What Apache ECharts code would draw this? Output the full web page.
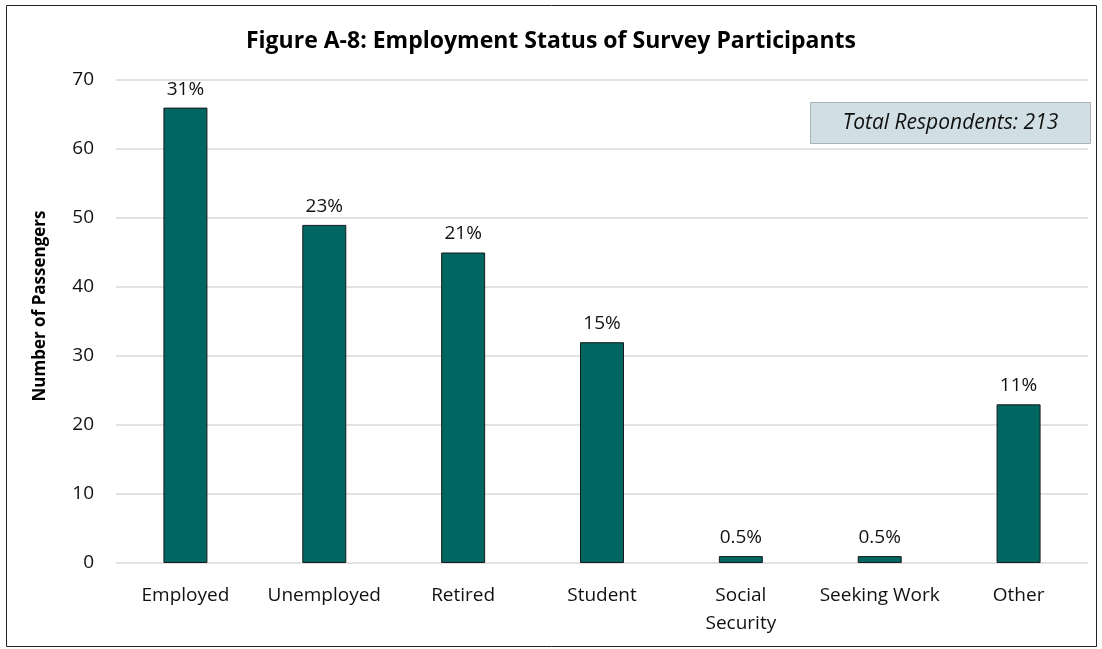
<!DOCTYPE html>
<html>
<head>
<meta charset="utf-8">
<script src="https://cdn.jsdelivr.net/npm/echarts@6/dist/echarts.min.js"></script>
<style>
html,body{margin:0;padding:0;background:#fff;}
#chart{width:1102px;height:649px;}
</style>
</head>
<body>
<div id="chart"></div>
<script>
// Employment status of survey participants
const categories = ['Employed', 'Unemployed', 'Retired', 'Student', 'Social\nSecurity', 'Seeking Work', 'Other'];
const counts = [66, 49, 45, 32, 1, 1, 23];
const shareLabels = ['31%', '23%', '21%', '15%', '0.5%', '0.5%', '11%'];
const yTicks = { min: 0, max: 70, interval: 10 };
const totalRespondents = 213;

const FONT = '"Open Sans", "Noto Sans", sans-serif';

const chart = echarts.init(document.getElementById('chart'));
chart.setOption({
  backgroundColor: '#fff',
  animation: false,
  title: {
    text: 'Figure A-8: Employment Status of Survey Participants',
    left: 'center',
    top: 25,
    textStyle: { fontFamily: FONT, fontWeight: 'bold', fontSize: 23, color: '#000' }
  },
  grid: { left: 116, right: 14, top: 80, bottom: 86 },
  xAxis: {
    type: 'category',
    data: categories,
    axisLine: { show: false },
    axisTick: { show: false },
    axisLabel: {
      fontFamily: FONT, fontSize: 19, color: '#111', margin: 19, lineHeight: 28,
      interval: 0
    }
  },
  yAxis: {
    type: 'value',
    min: yTicks.min, max: yTicks.max, interval: yTicks.interval,
    axisLine: { show: false },
    axisTick: { show: false },
    axisLabel: { fontFamily: FONT, fontSize: 19, color: '#111', margin: 22 },
    splitLine: { lineStyle: { color: '#d9d9d9', width: 1.5 } }
  },
  series: [{
    type: 'bar',
    data: counts,
    barWidth: 44,
    itemStyle: { color: '#006661', borderColor: '#1a1a1a', borderWidth: 1 },
    label: {
      show: true,
      position: 'top',
      distance: 9,
      fontFamily: FONT, fontSize: 19, color: '#111',
      formatter: p => shareLabels[p.dataIndex]
    }
  }],
  graphic: [
    {
      type: 'rect',
      shape: { x: 6.5, y: 5.5, width: 1090, height: 641 },
      style: { fill: 'none', stroke: '#222', lineWidth: 1 },
      silent: true, z: 100
    },
    {
      type: 'text',
      x: 40, y: 306,
      rotation: Math.PI / 2,
      style: {
        text: 'Number of Passengers',
        align: 'center', verticalAlign: 'middle',
        font: 'bold 17px ' + FONT,
        fill: '#000'
      }
    },
    {
      type: 'group',
      left: 810, top: 102,
      children: [
        {
          type: 'rect',
          shape: { x: 0, y: 0, width: 280, height: 41 },
          style: { fill: '#d1dfe4', stroke: '#aab3b6', lineWidth: 1 }
        },
        {
          type: 'text',
          style: {
            x: 140, y: 21,
            text: 'Total Respondents: ' + totalRespondents,
            align: 'center', verticalAlign: 'middle',
            font: 'italic 21px ' + FONT,
            fill: '#111'
          }
        }
      ]
    }
  ]
});
</script>
</body>
</html>
